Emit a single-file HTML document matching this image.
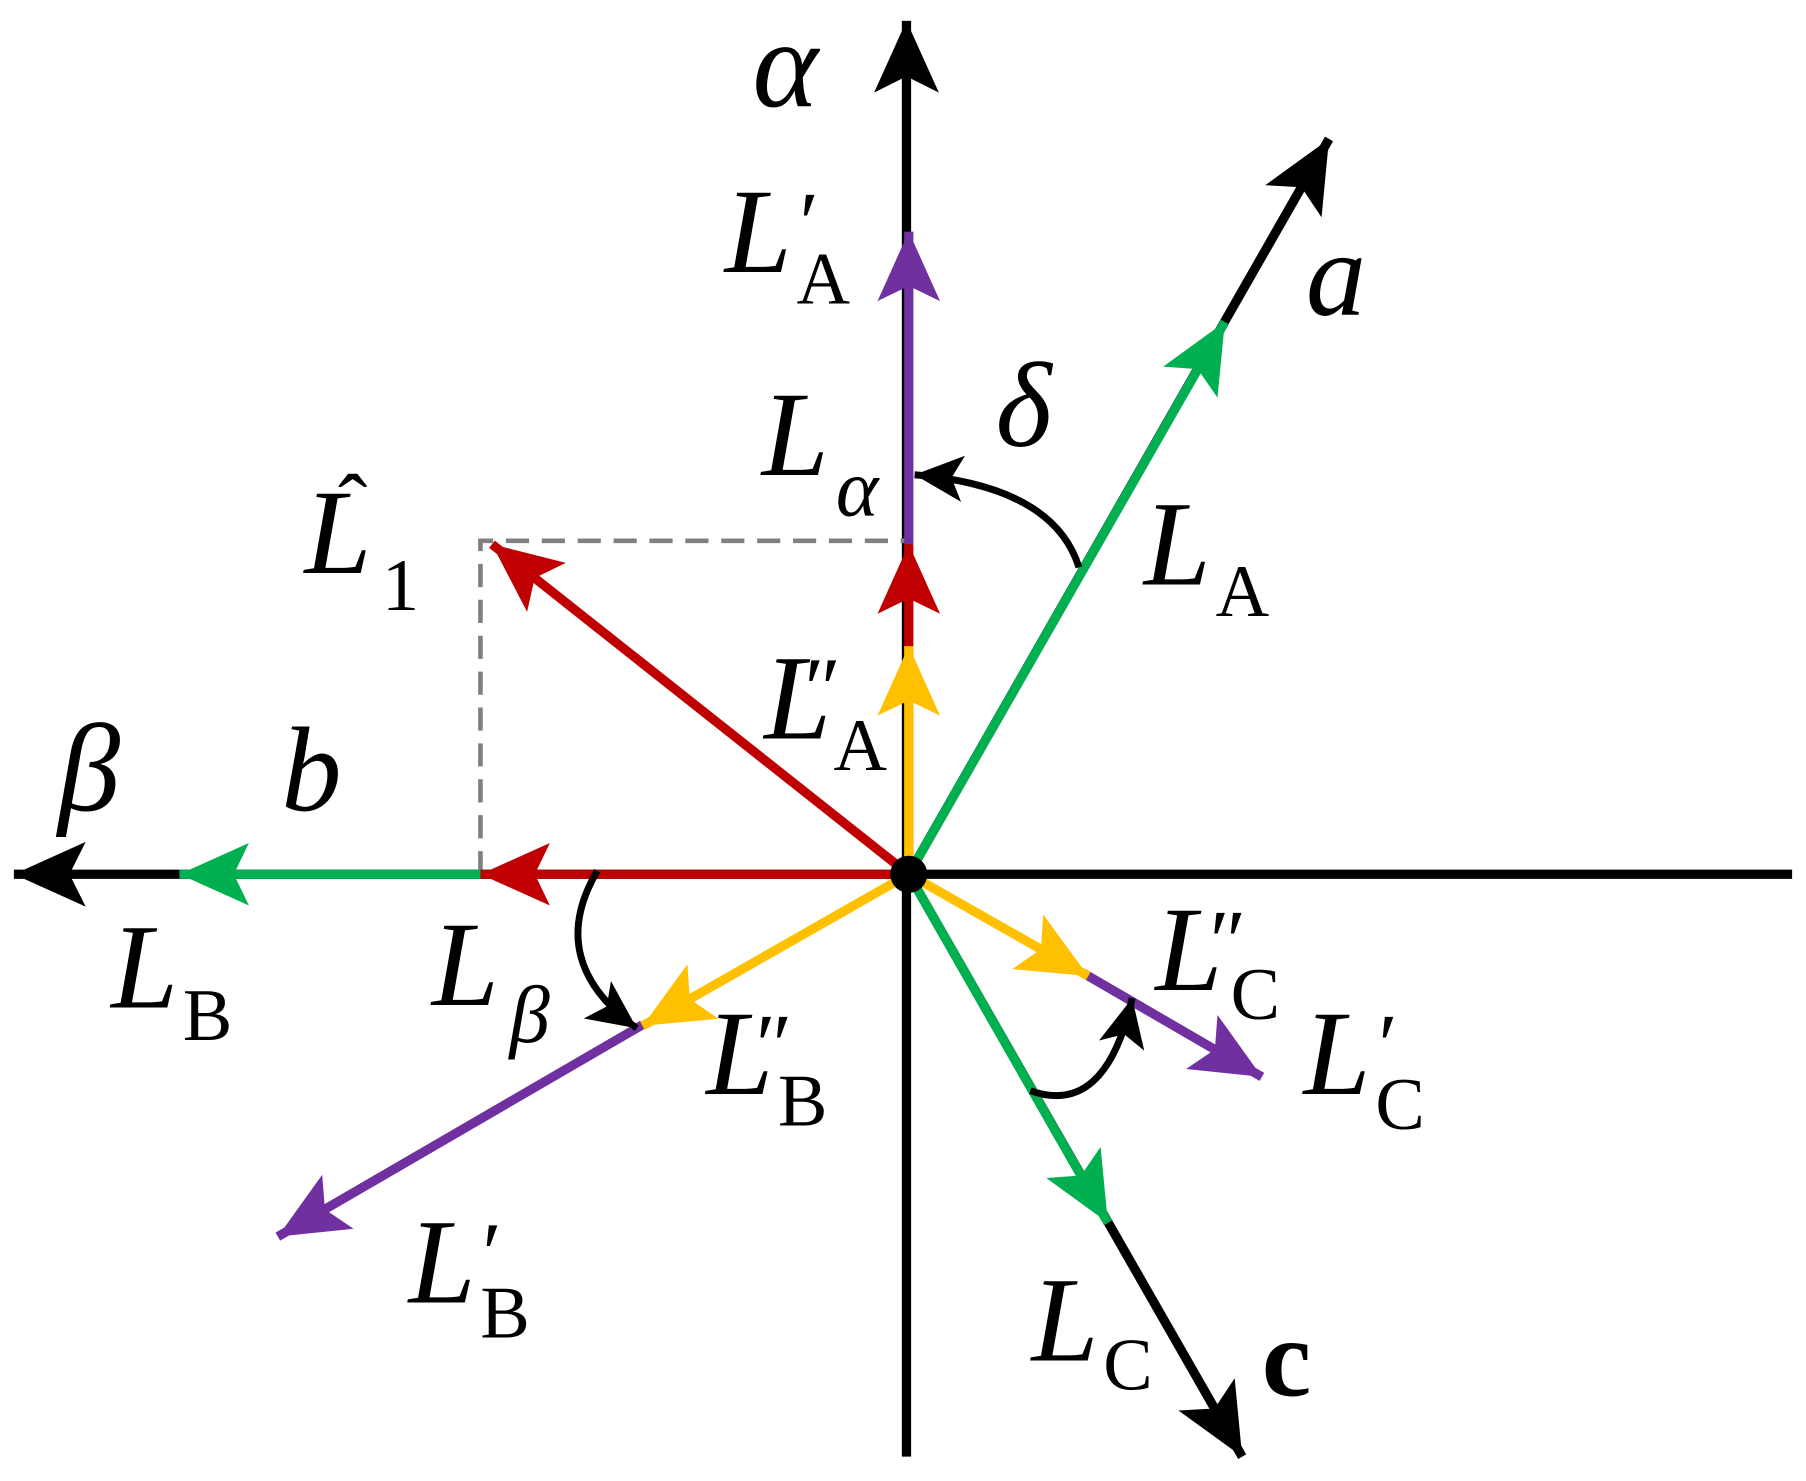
<!DOCTYPE html>
<html><head><meta charset="utf-8"><style>
html,body{margin:0;padding:0;background:#fff;}
svg{display:block;}
text{font-family:"Liberation Serif","Times New Roman",serif;font-style:italic;fill:#000;}
.s{font-style:normal;}
</style></head><body>
<svg width="1806" height="1481" viewBox="0 0 1560 1279" preserveAspectRatio="none" xmlns="http://www.w3.org/2000/svg">
<defs>
<marker id="mk" markerUnits="userSpaceOnUse" markerWidth="80" markerHeight="80" viewBox="-70 -40 80 80" refX="0" refY="0" orient="auto"><path d="M0,0 L-62,-28 L-48,0 L-62,28 Z" fill="#000"/></marker>
<marker id="mg" markerUnits="userSpaceOnUse" markerWidth="80" markerHeight="80" viewBox="-70 -40 80 80" refX="0" refY="0" orient="auto"><path d="M0,0 L-60,-27 L-47,0 L-60,27 Z" fill="#00b050"/></marker>
<marker id="mr" markerUnits="userSpaceOnUse" markerWidth="80" markerHeight="80" viewBox="-70 -40 80 80" refX="0" refY="0" orient="auto"><path d="M0,0 L-60,-27 L-47,0 L-60,27 Z" fill="#c00000"/></marker>
<marker id="mp" markerUnits="userSpaceOnUse" markerWidth="80" markerHeight="80" viewBox="-70 -40 80 80" refX="0" refY="0" orient="auto"><path d="M0,0 L-60,-27 L-47,0 L-60,27 Z" fill="#7030a0"/></marker>
<marker id="my" markerUnits="userSpaceOnUse" markerWidth="80" markerHeight="80" viewBox="-70 -40 80 80" refX="0" refY="0" orient="auto"><path d="M0,0 L-60,-27 L-47,0 L-60,27 Z" fill="#ffc000"/></marker>
<marker id="ms" markerUnits="userSpaceOnUse" markerWidth="60" markerHeight="60" viewBox="-50 -30 60 60" refX="0" refY="0" orient="auto"><path d="M0,0 L-42,-20 L-32,0 L-42,20 Z" fill="#000"/></marker>
</defs>
<g stroke-width="8" fill="none" stroke-linecap="butt">
<line x1="783" y1="1258" x2="783" y2="18" stroke="#000" marker-end="url(#mk)"/>
<line x1="1548" y1="755" x2="12" y2="755" stroke="#000" marker-end="url(#mk)"/>
<line x1="785" y1="755" x2="1148" y2="120" stroke="#000" marker-end="url(#mk)"/>
<line x1="785" y1="755" x2="1073" y2="1258" stroke="#000" marker-end="url(#mk)"/>
<path d="M415,755 L415,467 L783,467" stroke="#808080" stroke-width="4" stroke-dasharray="20,11"/>
<line x1="785" y1="755" x2="1058" y2="278" stroke="#00b050" marker-end="url(#mg)"/>
<line x1="785" y1="755" x2="957" y2="1056" stroke="#00b050" marker-end="url(#mg)"/>
<line x1="785" y1="755" x2="155" y2="755" stroke="#00b050" marker-end="url(#mg)"/>
<line x1="785" y1="470" x2="785" y2="200" stroke="#7030a0" marker-end="url(#mp)"/>
<line x1="555" y1="885" x2="240" y2="1068" stroke="#7030a0" marker-end="url(#mp)"/>
<line x1="935" y1="840" x2="1090" y2="930" stroke="#7030a0" marker-end="url(#mp)"/>
<line x1="785" y1="755" x2="785" y2="470" stroke="#c00000" marker-end="url(#mr)"/>
<line x1="785" y1="755" x2="425" y2="470" stroke="#c00000" marker-end="url(#mr)"/>
<line x1="785" y1="755" x2="415" y2="755" stroke="#c00000" marker-end="url(#mr)"/>
<line x1="785" y1="755" x2="785" y2="558" stroke="#ffc000" marker-end="url(#my)"/>
<line x1="785" y1="755" x2="555" y2="886" stroke="#ffc000" marker-end="url(#my)"/>
<line x1="785" y1="755" x2="940" y2="843" stroke="#ffc000" marker-end="url(#my)"/>
<path d="M932,490 Q910,420 790,410" stroke="#000" stroke-width="6" marker-end="url(#ms)"/>
<path d="M516,752 Q470,830 550,888" stroke="#000" stroke-width="6" marker-end="url(#ms)"/>
<path d="M890,942 Q955,965 978,862" stroke="#000" stroke-width="6" marker-end="url(#ms)"/>
</g>
<circle cx="785" cy="755" r="16" fill="#000"/>
<g font-size="104">
<text x="650" y="92" font-size="108">α</text>
<text x="626" y="235">L</text><text x="686" y="218" font-size="76">′</text><text x="688" y="262" font-size="64" class="s">A</text>
<text x="1128" y="272">a</text>
<text x="860" y="385">δ</text>
<text x="658" y="410">L</text><text x="722" y="445" font-size="70">α</text>
<text x="263" y="495">L</text><text x="292" y="462" font-size="76" class="s">ˆ</text><text x="330" y="527" font-size="64" class="s">1</text>
<text x="988" y="505">L</text><text x="1050" y="532" font-size="64" class="s">A</text>
<text x="660" y="638">L</text><text x="690" y="620" font-size="76">″</text><text x="720" y="665" font-size="64" class="s">A</text>
<text x="50" y="700" font-size="108">β</text>
<text x="243" y="700">b</text>
<text x="96" y="870">L</text><text x="158" y="898" font-size="64" class="s">B</text>
<text x="373" y="868">L</text><text x="440" y="900" font-size="70">β</text>
<text x="610" y="945">L</text><text x="648" y="928" font-size="76">″</text><text x="672" y="972" font-size="64" class="s">B</text>
<text x="998" y="855">L</text><text x="1040" y="838" font-size="76">″</text><text x="1063" y="880" font-size="64" class="s">C</text>
<text x="1126" y="945">L</text><text x="1186" y="928" font-size="76">′</text><text x="1188" y="975" font-size="64" class="s">C</text>
<text x="353" y="1125">L</text><text x="412" y="1108" font-size="76">′</text><text x="415" y="1155" font-size="64" class="s">B</text>
<text x="891" y="1175">L</text><text x="953" y="1200" font-size="64" class="s">C</text>
<text x="1090" y="1205" class="s" font-weight="bold" font-size="96">c</text>
</g>
</svg>
</body></html>
